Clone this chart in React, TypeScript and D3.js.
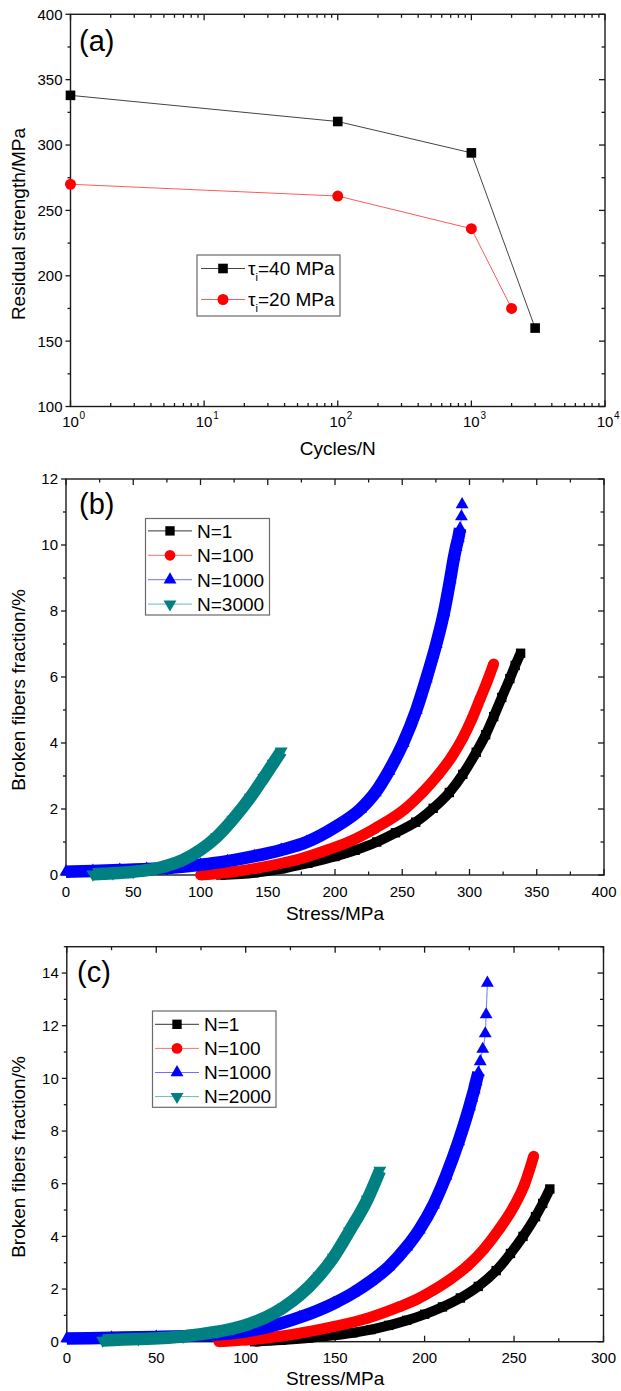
import React from "react";
import * as d3 from "d3";

const FONT = "'Liberation Sans', Arial, Helvetica, sans-serif";

// ---- (a) residual strength vs cycles ----
const cyclesT40 = [1, 100, 1000, 3000];
const strengthT40 = [338, 318, 294, 160];
const cyclesT20 = [1, 100, 1000, 2000];
const strengthT20 = [270, 261, 236, 175];
const strengthTicks = [100, 150, 200, 250, 300, 350, 400];
const decadeTicks = [1, 10, 100, 1000, 10000];
const decadeExp = ["0", "1", "2", "3", "4"];

// ---- (b) broken fibers, tau = 40 MPa ----
const bStressN1 = [115, 140, 160, 180, 200, 215, 231, 245, 260, 273, 285, 295, 305, 312, 318, 324, 330, 334, 338];
const bFracN1 = [0, 0.07, 0.19, 0.36, 0.56, 0.75, 1.0, 1.28, 1.6, 2.02, 2.5, 3.05, 3.72, 4.25, 4.8, 5.38, 5.95, 6.35, 6.72];
const bStressN100 = [100, 125, 150, 175, 190, 210, 230, 252, 265, 277, 287, 295, 302, 308, 313, 318];
const bFracN100 = [0, 0.1, 0.27, 0.5, 0.7, 1.0, 1.42, 2.0, 2.5, 3.05, 3.6, 4.15, 4.75, 5.35, 5.85, 6.4];
const bStressN1000 = [0, 20, 40, 60, 80, 100, 120, 140, 160, 179, 200, 219, 230, 240, 250.7, 260.5, 267.9, 275.3, 281, 285.6, 288.6, 290, 291.6, 293, 294, 294.5];
const bFracN1000 = [0.1, 0.12, 0.15, 0.18, 0.23, 0.31, 0.42, 0.57, 0.76, 1.0, 1.45, 2.0, 2.5, 3.15, 4.0, 5.0, 5.95, 7.0, 7.95, 8.95, 9.65, 9.93, 10.2, 10.5, 10.86, 11.23];
const bStressN3000 = [20, 35, 50, 65, 75, 87, 100, 112, 124, 137, 147, 154, 160];
const bFracN3000 = [0.02, 0.05, 0.1, 0.18, 0.28, 0.46, 0.76, 1.15, 1.68, 2.35, 2.95, 3.38, 3.75];

// ---- (c) broken fibers, tau = 20 MPa ----
const cStressN1 = [105, 120, 135, 149, 160, 170, 180, 190, 200, 210, 220, 230, 240, 248, 255, 262, 266, 270];
const cFracN1 = [0, 0.06, 0.14, 0.24, 0.34, 0.46, 0.62, 0.81, 1.04, 1.32, 1.66, 2.1, 2.7, 3.35, 4.0, 4.75, 5.25, 5.8];
const cStressN100 = [85, 100, 112, 130, 149, 168, 186, 196, 205, 215, 224, 233, 242, 250, 256, 261];
const cFracN100 = [0, 0.06, 0.14, 0.32, 0.57, 0.89, 1.33, 1.62, 1.96, 2.4, 2.88, 3.5, 4.3, 5.15, 6.0, 7.05];
const cStressN1000 = [0, 25, 50, 75, 93, 112, 130, 149, 160, 170, 180, 190, 197, 205, 212, 219, 225.1, 226.4, 227.7, 228.8, 230.1, 231.1, 232.5, 233.9, 234.4, 235.1];
const cFracN1000 = [0.12, 0.15, 0.18, 0.24, 0.33, 0.55, 0.92, 1.45, 1.85, 2.3, 2.85, 3.6, 4.25, 5.2, 6.3, 7.6, 8.93, 9.25, 9.57, 9.88, 10.22, 10.64, 11.11, 11.7, 12.42, 13.62];
const cStressN2000 = [20, 40, 65, 84, 93, 102, 112, 121, 130, 141, 149, 158, 168, 175];
const cFracN2000 = [0.05, 0.1, 0.2, 0.38, 0.5, 0.68, 0.95, 1.3, 1.75, 2.5, 3.2, 4.2, 5.4, 6.5];

const bLabels = ["N=1", "N=100", "N=1000", "N=3000"];
const cLabels = ["N=1", "N=100", "N=1000", "N=2000"];

const markColors = ["#000000", "#ff0000", "#0000ff", "#008080"];
const lineColors = ["#333333", "#ff7070", "#7070ff", "#6fb8b8"];
const symbols = [d3.symbolSquare, d3.symbolCircle, d3.symbolTriangle, d3.symbolTriangle];
const symSizes = [88, 90, 72, 72];
const symRotate = [0, 0, 0, 180];
const bandWidths = [10, 11, 12.5, 12.5];

const AXIS = "#1a1a1a";

function Marker({ x, y, k, scale = 1 }) {
  const d = d3.symbol(symbols[k], symSizes[k] * scale)();
  return <path d={d} transform={`translate(${x},${y}) rotate(${symRotate[k]})`} fill={markColors[k]} />;
}

function Frame({ x, y, left, right, top, bottom, xMajor, xMinor, yMajor, yMinor, xTickLabel, xTickY, xTitle, xTitleY, yTitle, yTitleY, tag, tagX, tagY }) {
  const tk = [];
  xMajor.forEach((v, i) => {
    const px = x(v);
    tk.push(<line key={"xb" + i} x1={px} x2={px} y1={bottom} y2={bottom - 6} />);
    tk.push(<line key={"xt" + i} x1={px} x2={px} y1={top} y2={top + 6} />);
  });
  xMinor.forEach((v, i) => {
    const px = x(v);
    tk.push(<line key={"xbm" + i} x1={px} x2={px} y1={bottom} y2={bottom - 3.5} />);
    tk.push(<line key={"xtm" + i} x1={px} x2={px} y1={top} y2={top + 3.5} />);
  });
  yMajor.forEach((v, i) => {
    const py = y(v);
    tk.push(<line key={"yl" + i} x1={left} x2={left - 5} y1={py} y2={py} />);
    tk.push(<line key={"yr" + i} x1={right} x2={right - 6} y1={py} y2={py} />);
  });
  yMinor.forEach((v, i) => {
    const py = y(v);
    tk.push(<line key={"ylm" + i} x1={left} x2={left - 3} y1={py} y2={py} />);
    tk.push(<line key={"yrm" + i} x1={right} x2={right - 3.5} y1={py} y2={py} />);
  });
  return (
    <g fontFamily={FONT} fill="#000">
      <rect x={left} y={top} width={right - left} height={bottom - top} fill="none" stroke={AXIS} strokeWidth={1.4} />
      <g stroke={AXIS} strokeWidth={1.3}>{tk}</g>
      {yMajor.map((v, i) => (
        <text key={"yt" + i} x={left - 8} y={y(v)} dy="0.36em" textAnchor="end" fontSize={15}>{v}</text>
      ))}
      {xMajor.map((v, i) => xTickLabel(v, i, x(v), xTickY))}
      <text x={(left + right) / 2} y={xTitleY} textAnchor="middle" fontSize={19}>{xTitle}</text>
      <text transform={`translate(25,${yTitleY}) rotate(-90)`} textAnchor="middle" fontSize={19}>{yTitle}</text>
      <text x={tagX} y={tagY} fontSize={29}>{tag}</text>
    </g>
  );
}

// stretches where the dense markers overlap into a solid band
function bandRuns(xs, pts) {
  const runs = [];
  let cur = [pts[0]];
  for (let i = 1; i < pts.length; i++) {
    const slope = Math.abs(pts[i][1] - pts[i - 1][1]) / Math.max(1e-6, xs[i] - xs[i - 1]);
    if (slope < 8) cur.push(pts[i]);
    else {
      if (cur.length > 1) runs.push(cur);
      cur = [pts[i]];
    }
  }
  if (cur.length > 1) runs.push(cur);
  return runs;
}

function Curve({ xs, ys, x, y, k }) {
  const pts = xs.map((v, i) => [x(v), y(ys[i])]);
  const line = d3.line().curve(d3.curveMonotoneX);
  const runs = bandRuns(xs, pts);
  return (
    <g>
      <path d={line(pts)} fill="none" stroke={lineColors[k]} strokeWidth={1} />
      {runs.map((r, i) => (
        <path key={i} d={line(r)} fill="none" stroke={markColors[k]} strokeWidth={bandWidths[k]} strokeLinejoin="round" />
      ))}
      {pts.map((p, i) => <Marker key={i} x={p[0]} y={p[1]} k={k} />)}
    </g>
  );
}

function NLegend({ labels, bx, by, bw, bh, rows, lx0, lx1, mx, tx }) {
  return (
    <g fontFamily={FONT}>
      <rect x={bx} y={by} width={bw} height={bh} fill="#fff" stroke="#6a6a6a" strokeWidth={1.2} />
      {labels.map((t, k) => (
        <g key={k}>
          <line x1={lx0} x2={lx1} y1={rows[k]} y2={rows[k]} stroke={lineColors[k]} strokeWidth={1} />
          <Marker x={mx} y={rows[k]} k={k} />
          <text x={tx} y={rows[k]} dy="0.36em" fontSize={19}>{t}</text>
        </g>
      ))}
    </g>
  );
}

function range(a, b, step) {
  return d3.range(a, b + step / 2, step);
}

export default function App() {
  // ---------- panel (a) ----------
  const aL = 70.5, aR = 605, aT = 14.3, aB = 406.5;
  const ax = d3.scaleLog().domain([1, 10000]).range([aL, aR]);
  const ay = d3.scaleLinear().domain([100, 400]).range([aB, aT]);
  const aMinor = [];
  decadeTicks.slice(0, 4).forEach((d) => {
    for (let m = 2; m <= 9; m++) aMinor.push(d * m);
  });
  const aYMinor = strengthTicks.slice(0, -1).map((v) => v + 25);
  const line = d3.line();
  const t40 = cyclesT40.map((c, i) => [ax(c), ay(strengthT40[i])]);
  const t20 = cyclesT20.map((c, i) => [ax(c), ay(strengthT20[i])]);

  // ---------- panel (b) ----------
  const bL = 66, bR = 604, bT = 479, bB = 875;
  const bx = d3.scaleLinear().domain([0, 400]).range([bL, bR]);
  const by = d3.scaleLinear().domain([0, 12]).range([bB, bT]);
  const bSeries = [
    [bStressN1, bFracN1],
    [bStressN100, bFracN100],
    [bStressN1000, bFracN1000],
    [bStressN3000, bFracN3000],
  ];

  // ---------- panel (c) ----------
  const cL = 66.8, cR = 603.5, cT = 946.7, cB = 1341.7;
  const cx = d3.scaleLinear().domain([0, 300]).range([cL, cR]);
  const cy = d3.scaleLinear().domain([0, 15]).range([cB, cT]);
  const cSeries = [
    [cStressN1, cFracN1],
    [cStressN100, cFracN100],
    [cStressN1000, cFracN1000],
    [cStressN2000, cFracN2000],
  ];

  const plainLabel = (v, i, px, py) => (
    <text key={"xl" + i} x={px} y={py} textAnchor="middle" fontSize={15}>{v}</text>
  );
  const powLabel = (v, i, px, py) => (
    <g key={"xl" + i}>
      <text x={px} y={py} textAnchor="middle" fontSize={15}>10</text>
      <text x={px + 9} y={py - 8} fontSize={10}>{decadeExp[i]}</text>
    </g>
  );

  return (
    <svg width={621} height={1391} style={{ position: "absolute", left: 0, top: 0, background: "#fff" }}>
      <rect width={621} height={1391} fill="#fff" />

      {/* (a) */}
      <Frame x={ax} y={ay} left={aL} right={aR} top={aT} bottom={aB}
        xMajor={decadeTicks} xMinor={aMinor} yMajor={strengthTicks} yMinor={aYMinor}
        xTickLabel={powLabel} xTickY={426.5} xTitle="Cycles/N" xTitleY={455}
        yTitle="Residual strength/MPa" yTitleY={224} tag="(a)" tagX={79} tagY={50.5} />
      <path d={line(t40)} fill="none" stroke="#444" strokeWidth={1} />
      <path d={line(t20)} fill="none" stroke="#ff5a5a" strokeWidth={1} />
      {t40.map((p, i) => <Marker key={"a40" + i} x={p[0]} y={p[1]} k={0} scale={1.05} />)}
      {t20.map((p, i) => <Marker key={"a20" + i} x={p[0]} y={p[1]} k={1} scale={1.05} />)}
      <g fontFamily={FONT}>
        <rect x={197} y={255} width={143} height={61} fill="#fff" stroke="#6a6a6a" strokeWidth={1.2} />
        {[["40", 0, 268.5], ["20", 1, 299.5]].map(([v, k, ry]) => (
          <g key={v}>
            <line x1={201} x2={245} y1={ry} y2={ry} stroke={k === 0 ? "#444" : "#ff5a5a"} strokeWidth={1} />
            <Marker x={223} y={ry} k={k} scale={1.05} />
            <text x={248} y={ry} dy="0.36em" fontSize={19}>
              τ<tspan dy={6} fontSize={11}>i</tspan><tspan dy={-6}>={v} MPa</tspan>
            </text>
          </g>
        ))}
      </g>

      {/* (b) */}
      <Frame x={bx} y={by} left={bL} right={bR} top={bT} bottom={bB}
        xMajor={range(0, 400, 50)} xMinor={range(25, 375, 50)} yMajor={range(0, 12, 2)} yMinor={range(1, 11, 2)}
        xTickLabel={plainLabel} xTickY={896.5} xTitle="Stress/MPa" xTitleY={920}
        yTitle="Broken fibers fraction/%" yTitleY={690} tag="(b)" tagX={79} tagY={514} />
      {bSeries.map(([xs, ys], k) => <Curve key={"b" + k} xs={xs} ys={ys} x={bx} y={by} k={k} />)}
      <NLegend labels={bLabels} bx={145.5} by={518.5} bw={124} bh={96.5}
        rows={[530.9, 555.3, 579.7, 604.1]} lx0={148} lx1={192} mx={170} tx={197} />

      {/* (c) */}
      <Frame x={cx} y={cy} left={cL} right={cR} top={cT} bottom={cB}
        xMajor={range(0, 300, 50)} xMinor={range(25, 275, 50)} yMajor={range(0, 14, 2)} yMinor={range(1, 15, 2)}
        xTickLabel={plainLabel} xTickY={1363} xTitle="Stress/MPa" xTitleY={1385}
        yTitle="Broken fibers fraction/%" yTitleY={1157} tag="(c)" tagX={77} tagY={982} />
      {cSeries.map(([xs, ys], k) => <Curve key={"c" + k} xs={xs} ys={ys} x={cx} y={cy} k={k} />)}
      <NLegend labels={cLabels} bx={152.5} by={1011} bw={123.5} bh={96.3}
        rows={[1024.3, 1048.4, 1072.5, 1096.6]} lx0={155} lx1={199} mx={177} tx={204} />
    </svg>
  );
}
